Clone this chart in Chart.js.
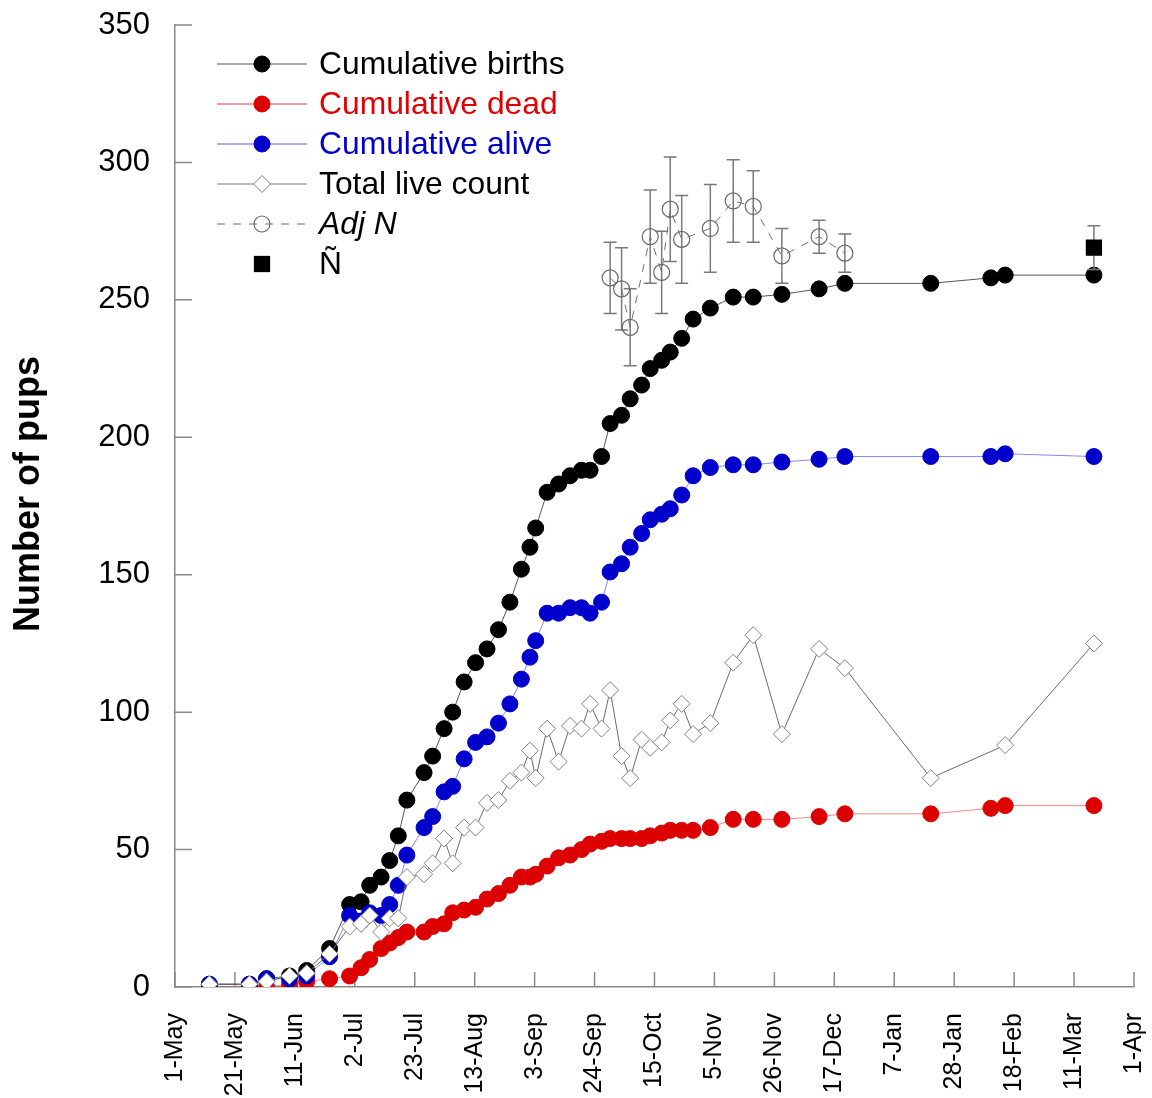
<!DOCTYPE html>
<html>
<head>
<meta charset="utf-8">
<script src="https://cdn.jsdelivr.net/npm/chart.js@4.4.1/dist/chart.umd.min.js"></script>
<style>
  html, body { margin: 0; padding: 0; background: #ffffff; }
  canvas { display: block; }
</style>
</head>
<body>
<canvas id="pups" width="1152" height="1098"></canvas>
<script>
// Survey days, counted from 1 May
const surveyDays = [12, 26, 32, 40, 46, 54, 61, 65, 68, 72, 75, 78, 81, 87, 90, 94, 97, 101, 105, 109,
  113, 117, 121, 124, 126, 130, 134, 138, 142, 145, 149, 152, 156, 159, 163, 166, 170, 173, 177, 181,
  187, 195, 202, 212, 225, 234, 264, 285, 290, 321];
const cumulativeBirths = [1, 1, 3, 4, 6, 14, 30, 31, 37, 40, 46, 55, 68, 78, 84, 94, 100, 111, 118, 123,
  130, 140, 152, 160, 167, 180, 183, 186, 188, 188, 193, 205, 208, 214, 219, 225, 228, 231, 236, 243,
  247, 251, 251, 252, 254, 256, 256, 258, 259, 259];
const cumulativeDead = [0, 0, 0, 1, 2, 3, 4, 7, 10, 14, 16, 18, 20, 20, 22, 23, 27, 28, 29, 32,
  34, 37, 40, 40, 41, 44, 47, 48, 50, 52, 53, 54, 54, 54, 54, 55, 56, 57, 57, 57,
  58, 61, 61, 61, 62, 63, 63, 65, 66, 66];
const cumulativeAlive = [1, 1, 3, 3, 4, 11, 26, 24, 27, 26, 30, 37, 48, 58, 62, 71, 73, 83, 89, 91,
  96, 103, 112, 120, 126, 136, 136, 138, 138, 136, 140, 151, 154, 160, 165, 170, 172, 174, 179, 186,
  189, 190, 190, 191, 192, 193, 193, 193, 194, 193];

// Direct counts of live pups
const countDays = [12, 26, 32, 40, 46, 54, 61, 65, 68, 72, 75, 78, 81, 87, 90, 94, 97, 101, 105, 109,
  113, 117, 121, 124, 126, 130, 134, 138, 142, 145, 149, 152, 156, 159, 163, 166, 170, 173, 177, 181,
  187, 195, 202, 212, 225, 234, 264, 290, 321];
const totalLiveCount = [1, 1, 2, 4, 5, 12, 22, 23, 26, 20, 25, 25, 40, 41, 45, 54, 45, 58, 58, 67,
  68, 75, 78, 86, 76, 94, 82, 95, 94, 103, 94, 108, 84, 76, 90, 87, 89, 97, 103, 92,
  96, 118, 128, 92, 123, 116, 76, 88, 125];

// Adjusted abundance estimates with their error ranges
const adjNDays = [152, 156, 159, 166, 170, 173, 177, 187, 195, 202, 212, 225, 234];
const adjN = [258, 254, 240, 273, 260, 283, 272, 276, 286, 284, 266, 273, 267];
const adjNError = [13, 15, 14, 17, 15, 19, 16, 16, 15, 13, 10, 6, 7];

// Final estimate Ñ
const nTildeDays = [321];
const nTilde = [269];
const nTildeError = [8];

// Axis labelling
const seasonLength = 335; // 1 May to 1 Apr
const xTickLabels = ['1-May', '21-May', '11-Jun', '2-Jul', '23-Jul', '13-Aug', '3-Sep', '24-Sep',
  '15-Oct', '5-Nov', '26-Nov', '17-Dec', '7-Jan', '28-Jan', '18-Feb', '11-Mar', '1-Apr'];
const yMin = 0, yMax = 350, yStep = 50;
const yTitle = 'Number of pups';

const pts = (xs, ys) => xs.map((d, i) => ({ x: d, y: ys[i] }));

const axisColor = '#8a8a8a';
const FONT = '"Liberation Sans", Arial, Helvetica, sans-serif';

// Vertical error bars, drawn just before their dataset's markers
const errorBars = {
  id: 'errorBars',
  beforeDatasetDraw(chart, args) {
    const ds = chart.data.datasets[args.index];
    if (!ds.errorBars) return;
    const { ctx } = chart;
    const yScale = chart.scales.y;
    ctx.save();
    ctx.strokeStyle = '#7a7a7a';
    ctx.lineWidth = 1.5;
    ctx.beginPath();
    args.meta.data.forEach((el, i) => {
      const v = ds.data[i].y, e = ds.errorBars[i];
      const top = yScale.getPixelForValue(v + e);
      const bot = yScale.getPixelForValue(v - e);
      ctx.moveTo(el.x, top); ctx.lineTo(el.x, bot);
      ctx.moveTo(el.x - 6.5, top); ctx.lineTo(el.x + 6.5, top);
      ctx.moveTo(el.x - 6.5, bot); ctx.lineTo(el.x + 6.5, bot);
    });
    ctx.stroke();
    ctx.restore();
  }
};

// Tick marks pointing into the plot area
const innerTicks = {
  id: 'innerTicks',
  beforeDatasetsDraw(chart) {
    const { ctx, chartArea, scales: { x, y } } = chart;
    ctx.save();
    ctx.strokeStyle = axisColor;
    ctx.lineWidth = 1.5;
    ctx.beginPath();
    y.ticks.forEach((t, i) => {
      const py = y.getPixelForTick(i);
      ctx.moveTo(chartArea.left, py); ctx.lineTo(chartArea.left + 17, py);
    });
    x.ticks.forEach((t, i) => {
      const px = x.getPixelForTick(i);
      ctx.moveTo(px, chartArea.bottom); ctx.lineTo(px, chartArea.bottom - 15);
    });
    ctx.stroke();
    ctx.restore();
  }
};

// Rotated y-axis title
const yAxisTitle = {
  id: 'yAxisTitle',
  afterDraw(chart) {
    const { ctx } = chart;
    ctx.save();
    ctx.translate(29, 494);
    ctx.rotate(-Math.PI / 2);
    ctx.font = 'bold 36px ' + FONT;
    ctx.fillStyle = '#000';
    ctx.textAlign = 'center';
    ctx.textBaseline = 'middle';
    ctx.fillText(yTitle, 0, 0);
    ctx.restore();
  }
};

function drawMarker(ctx, ds, x, y) {
  ctx.save();
  ctx.fillStyle = ds.pointBackgroundColor;
  ctx.strokeStyle = ds.pointBorderColor;
  ctx.lineWidth = ds.pointBorderWidth;
  Chart.helpers.drawPoint(ctx, {
    pointStyle: ds.pointStyle || 'circle',
    radius: ds.pointRadius,
    rotation: 0,
    borderWidth: ds.pointBorderWidth
  }, x, y);
  ctx.restore();
}

// Legend in the upper-left corner of the plot
const insetLegend = {
  id: 'insetLegend',
  afterDraw(chart) {
    const { ctx } = chart;
    const x0 = 217, x1 = 307, xm = 262, xt = 319, y0 = 64, dy = 40;
    chart.data.datasets.forEach((ds, i) => {
      const yy = y0 + dy * i;
      if (ds.showLine) {
        ctx.save();
        ctx.strokeStyle = ds.legendLineColor || ds.borderColor;
        ctx.lineWidth = ds.borderWidth;
        ctx.setLineDash(ds.borderDash || []);
        ctx.beginPath();
        ctx.moveTo(x0, yy); ctx.lineTo(x1, yy);
        ctx.stroke();
        ctx.restore();
      }
      drawMarker(ctx, ds, xm, yy);
      ctx.save();
      ctx.font = (ds.legendItalic ? 'italic ' : '') + '31.8px ' + FONT;
      ctx.fillStyle = ds.legendTextColor;
      ctx.textAlign = 'left';
      ctx.textBaseline = 'middle';
      ctx.fillText(ds.label, xt, yy + 1);
      ctx.restore();
    });
  }
};

// Fixed axis boxes so the plot area spans x 175-1134, y 25-987
function noOverhang(scale) {
  scale.paddingLeft = 0; scale.paddingRight = 0;
  scale.paddingTop = 0; scale.paddingBottom = 0;
}

const chart = new Chart(document.getElementById('pups'), {
  type: 'scatter',
  data: {
    datasets: [
      {
        label: 'Cumulative births', data: pts(surveyDays, cumulativeBirths), showLine: true, order: 6,
        borderColor: 'rgba(30,30,30,0.75)', legendLineColor: '#555555', borderWidth: 1,
        pointStyle: 'circle', pointRadius: 8, pointBorderWidth: 1,
        pointBackgroundColor: '#000000', pointBorderColor: '#000000', legendTextColor: '#000000'
      },
      {
        label: 'Cumulative dead', data: pts(surveyDays, cumulativeDead), showLine: true, order: 5,
        borderColor: 'rgba(230,40,40,0.55)', legendLineColor: '#e23a3a', borderWidth: 1,
        pointStyle: 'circle', pointRadius: 8, pointBorderWidth: 1,
        pointBackgroundColor: '#dd0000', pointBorderColor: '#dd0000', legendTextColor: '#e00000'
      },
      {
        label: 'Cumulative alive', data: pts(surveyDays, cumulativeAlive), showLine: true, order: 4,
        borderColor: 'rgba(40,40,230,0.55)', legendLineColor: '#5a5ae6', borderWidth: 1,
        pointStyle: 'circle', pointRadius: 8, pointBorderWidth: 1,
        pointBackgroundColor: '#0000cc', pointBorderColor: '#0000cc', legendTextColor: '#0000cc'
      },
      {
        label: 'Total live count', data: pts(countDays, totalLiveCount), showLine: true, order: 3,
        borderColor: '#6a6a6a', legendLineColor: '#7a7a7a', borderWidth: 1,
        pointStyle: 'rectRot', pointRadius: 8.5, pointBorderWidth: 1,
        pointBackgroundColor: '#ffffff', pointBorderColor: '#808080', legendTextColor: '#000000'
      },
      {
        label: 'Adj N', data: pts(adjNDays, adjN), showLine: true, order: 2, errorBars: adjNError,
        borderColor: '#707070', borderWidth: 1, borderDash: [8, 8],
        pointStyle: 'circle', pointRadius: 8, pointBorderWidth: 1.2,
        pointBackgroundColor: 'rgba(255,255,255,0)', pointBorderColor: '#6a6a6a',
        legendTextColor: '#000000', legendItalic: true
      },
      {
        label: 'Ñ', data: pts(nTildeDays, nTilde), showLine: false, order: 1, errorBars: nTildeError,
        pointStyle: 'rect', pointRadius: 11.5, pointBorderWidth: 0,
        pointBackgroundColor: '#000000', pointBorderColor: '#000000', legendTextColor: '#000000'
      }
    ]
  },
  options: {
    responsive: false,
    animation: false,
    devicePixelRatio: 1,
    events: [],
    layout: { padding: { top: 25, right: 18, bottom: 0, left: 0 } },
    plugins: { legend: { display: false }, tooltip: { enabled: false }, title: { display: false } },
    elements: { line: { tension: 0 } },
    scales: {
      x: {
        type: 'linear', min: 0, max: seasonLength,
        grid: { display: false, drawTicks: false },
        border: { display: true, color: axisColor, width: 1.5 },
        afterBuildTicks(scale) {
          scale.ticks = xTickLabels.map((_, i) => ({ value: i * seasonLength / (xTickLabels.length - 1) }));
        },
        afterFit(scale) { scale.height = 1098 - 987; noOverhang(scale); },
        ticks: {
          autoSkip: false, maxRotation: 90, minRotation: 90, padding: 26,
          color: '#000000', font: { family: FONT, size: 25 },
          callback: (v, i) => xTickLabels[i]
        }
      },
      y: {
        type: 'linear', min: yMin, max: yMax,
        grid: { display: false, drawTicks: false },
        border: { display: true, color: axisColor, width: 1.5 },
        afterFit(scale) { scale.width = 175; noOverhang(scale); },
        ticks: {
          stepSize: yStep, padding: 25,
          color: '#000000', font: { family: FONT, size: 31 }
        }
      }
    }
  },
  plugins: [errorBars, innerTicks, yAxisTitle, insetLegend]
});
</script>
</body>
</html>
